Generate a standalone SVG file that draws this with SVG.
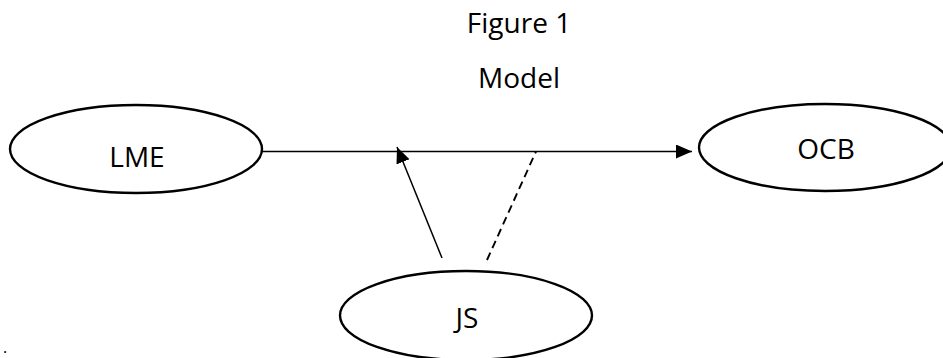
<svg xmlns="http://www.w3.org/2000/svg" width="943" height="358" viewBox="0 0 943 358">
<style>
.node ellipse{fill:#fff;stroke:#000;stroke-width:2.4}
text{font-family:"Open Sans","Noto Sans",sans-serif;font-size:28px;fill:#000;text-anchor:middle}
.conn line{stroke:#000;stroke-width:1.5}
.conn line.dash{stroke-dasharray:8 5;stroke-width:1.9}
</style>
<defs>
<marker id="ah" markerUnits="userSpaceOnUse" markerWidth="18" markerHeight="14" refX="16" refY="7" orient="auto">
<path d="M0,0 L16,7 L0,14 Z" fill="#000"/>
</marker>
</defs>
<rect width="943" height="358" fill="#fff"/>
<g id="title">
<text x="519" y="33">Figure 1</text>
<text x="519" y="88">Model</text>
</g>
<text x="5" y="353" style="font-size:16px">.</text>
<g class="conn" id="connectors">
<line x1="262" y1="151.5" x2="692" y2="151.5" marker-end="url(#ah)"/>
<line x1="442" y1="258" x2="397" y2="147" marker-end="url(#ah)"/>
<line class="dash" x1="487" y1="260" x2="536" y2="151.5"/>
</g>
<g class="node" id="LME">
<ellipse cx="136" cy="149" rx="126" ry="44"/>
<text x="137" y="167">LME</text>
</g>
<g class="node" id="OCB">
<ellipse cx="825" cy="147.5" rx="126" ry="43.5"/>
<text x="826" y="159">OCB</text>
</g>
<g class="node" id="JS">
<ellipse cx="466" cy="315.5" rx="126" ry="44.5"/>
<text x="467" y="328">JS</text>
</g>
</svg>
